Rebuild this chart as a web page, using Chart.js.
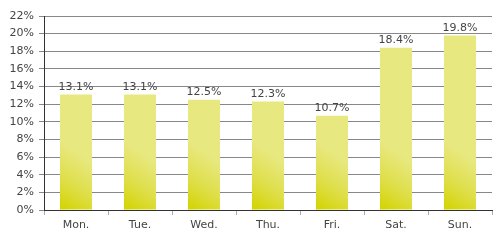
<!DOCTYPE html>
<html>
<head>
<meta charset="utf-8">
<script src="https://cdn.jsdelivr.net/npm/chart.js@4/dist/chart.umd.min.js"></script>
<style>
  html, body { margin: 0; padding: 0; background: #fff; }
  #wrap { width: 500px; height: 240px; }
</style>
</head>
<body>
<div id="wrap"><canvas id="chart"></canvas></div>
<script>
const days = ["Mon.", "Tue.", "Wed.", "Thu.", "Fri.", "Sat.", "Sun."];
const shares = [13.1, 13.1, 12.5, 12.3, 10.7, 18.4, 19.8];
const yMax = 22;
const yStep = 2;

// diagonal gradient in the bottom part of every bar
const barFill = (ctx) => {
  const chart = ctx.chart;
  const xs = chart.scales.x;
  const ys = chart.scales.y;
  if (!xs || !ys || !chart.chartArea) return "#e8e87c";
  const cx = xs.getPixelForValue(ctx.dataIndex);
  const w = (xs.width / days.length) * 0.5;
  const bottom = ys.getPixelForValue(0);
  if (isNaN(cx) || isNaN(bottom)) return "#e8e87c";
  const left = cx - w / 2;
  const g = chart.ctx.createLinearGradient(left, bottom, left + w, bottom - 48);
  g.addColorStop(0, "#d3d300");
  g.addColorStop(0.5, "#dfdf4c");
  g.addColorStop(1, "#e8e880");
  return g;
};

const valueLabels = {
  id: "valueLabels",
  afterDatasetsDraw(chart) {
    const c = chart.ctx;
    c.save();
    c.font = "11px 'DejaVu Sans'";
    c.fillStyle = "#444";
    c.textAlign = "center";
    c.textBaseline = "bottom";
    chart.getDatasetMeta(0).data.forEach((bar, i) => {
      c.fillText(shares[i].toFixed(1) + "%", bar.x, bar.y - 2);
    });
    c.restore();
  }
};

new Chart(document.getElementById("chart"), {
  type: "bar",
  data: {
    labels: days,
    datasets: [{
      data: shares,
      backgroundColor: barFill,
      borderWidth: 0,
      barPercentage: 0.5,
      categoryPercentage: 1
    }]
  },
  options: {
    responsive: true,
    maintainAspectRatio: false,
    animation: false,
    layout: { padding: { top: 16, right: 8, left: 0, bottom: 0 } },
    plugins: { legend: { display: false }, tooltip: { enabled: false } },
    scales: {
      x: {
        afterFit: (s) => { s.height = 30; },
        grid: { drawOnChartArea: false, color: "#aaa", tickLength: 5 },
        border: { color: "#333", width: 1 },
        ticks: { color: "#444", font: { family: "DejaVu Sans", size: 11 }, padding: 4 }
      },
      y: {
        min: 0,
        max: yMax,
        afterFit: (s) => { s.width = 44; },
        grid: { color: "#888", tickLength: 5 },
        border: { color: "#333", width: 1 },
        ticks: {
          stepSize: yStep,
          color: "#444",
          padding: 5,
          font: { family: "DejaVu Sans", size: 11 },
          callback: (v) => v + "%"
        }
      }
    }
  },
  plugins: [valueLabels]
});
</script>
</body>
</html>
